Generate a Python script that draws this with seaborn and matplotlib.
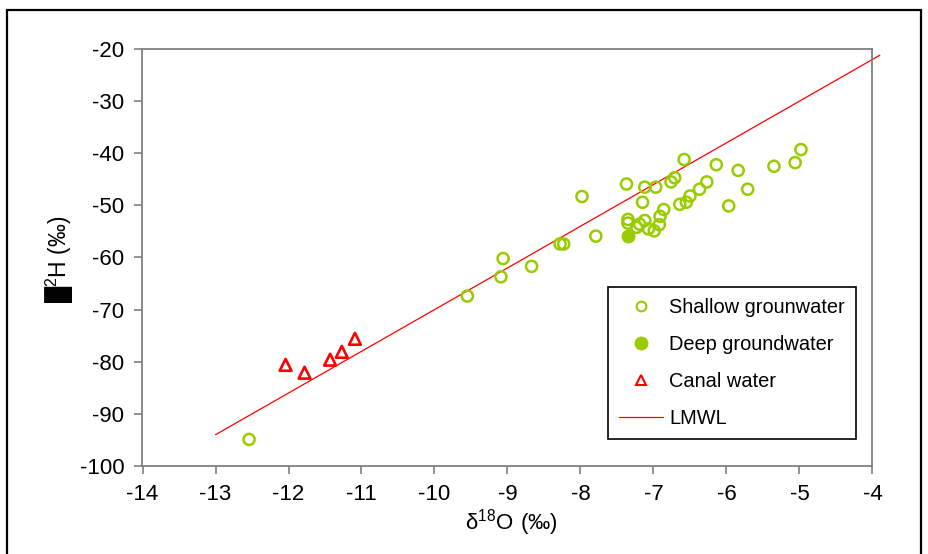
import matplotlib
matplotlib.use("Agg")
import matplotlib.pyplot as plt
import seaborn as sns
import pandas as pd
from matplotlib.patches import Rectangle
from matplotlib.lines import Line2D

# ---- data ----
shallow_d18o = [-12.54, -9.55, -9.09, -9.06, -8.67, -8.28, -8.23, -7.98, -7.79, -7.37,
                -7.35, -7.35, -7.23, -7.19, -7.15, -7.12, -7.12, -7.07, -6.99, -6.97,
                -6.92, -6.91, -6.86, -6.76, -6.71, -6.58, -6.64, -6.55, -6.50, -6.37,
                -6.27, -6.14, -5.97, -5.84, -5.71, -5.35, -5.06, -4.98]
shallow_d2h = [-94.9, -67.4, -63.7, -60.2, -61.7, -57.4, -57.4, -48.3, -55.9, -45.9,
               -52.7, -53.4, -54.2, -53.6, -49.4, -46.5, -52.9, -54.5, -54.9, -46.5,
               -53.7, -52.1, -50.8, -45.5, -44.7, -41.2, -49.8, -49.4, -48.2, -46.9,
               -45.5, -42.2, -50.1, -43.3, -46.9, -42.5, -41.8, -39.3]
deep_d18o = [-7.35]
deep_d2h = [-55.9]
canal_d18o = [-12.04, -11.78, -11.43, -11.27, -11.09]
canal_d2h = [-80.6, -82.1, -79.6, -78.1, -75.6]
lmwl_d18o = [-13.0, -3.9]
lmwl_d2h = [-94.0, -21.2]

x_ticks = [-14, -13, -12, -11, -10, -9, -8, -7, -6, -5, -4]
y_ticks = [-100, -90, -80, -70, -60, -50, -40, -30, -20]

labels = ["Shallow grounwater", "Deep groundwater", "Canal water", "LMWL"]

GREEN = "#99CC00"
RED = "#FF0000"
GRAY = "#808080"

sns.set_theme(style="white")
plt.rcParams["font.family"] = ["Liberation Sans", "DejaVu Sans"]
plt.rcParams["text.color"] = "black"

fig = plt.figure(figsize=(9.29, 5.54), dpi=100)
ax = fig.add_axes([142.5 / 929, 1 - 466 / 554, (872.5 - 142.5) / 929, (466 - 49) / 554])

df_s = pd.DataFrame({"x": shallow_d18o, "y": shallow_d2h})
df_d = pd.DataFrame({"x": deep_d18o, "y": deep_d2h})
df_c = pd.DataFrame({"x": canal_d18o, "y": canal_d2h})
df_l = pd.DataFrame({"x": lmwl_d18o, "y": lmwl_d2h})

sns.lineplot(data=df_l, x="x", y="y", ax=ax, color=RED, linewidth=0.9, zorder=2)
for ln in ax.get_lines():
    ln.set_clip_on(False)
sns.scatterplot(data=df_s, x="x", y="y", ax=ax, marker="o", s=64,
                facecolor="none", edgecolor=GREEN, linewidth=1.8, zorder=3)
sns.scatterplot(data=df_d, x="x", y="y", ax=ax, marker="o", s=100,
                color=GREEN, edgecolor=GREEN, linewidth=0, zorder=4)
sns.scatterplot(data=df_c, x="x", y="y", ax=ax, marker="^", s=72,
                facecolor="none", edgecolor=RED, linewidth=1.9, zorder=3)

ax.set_xlim(x_ticks[0], x_ticks[-1])
ax.set_ylim(y_ticks[0], y_ticks[-1])
ax.set_xticks(x_ticks)
ax.set_yticks(y_ticks)
ax.set_xticklabels([str(v) for v in x_ticks])
ax.set_yticklabels([str(v) for v in y_ticks])
ax.tick_params(axis="both", which="major", direction="out", length=6, width=1.2,
               color=GRAY, labelsize=16, pad=7, labelcolor="black",
               bottom=True, left=True)
for sp in ax.spines.values():
    sp.set_visible(True)
    sp.set_color(GRAY)
    sp.set_linewidth(1.3)
ax.grid(False)

ax.set_xlabel("")
ax.set_ylabel("")
fig.text(511 / 929, 1 - 523 / 554,
         r"$\mathregular{\delta^{18}O\ (‰)}$", ha="center", va="center",
         fontsize=16, color="black")
fig.text(60 / 929, 1 - 259 / 554, "\u2588$\\mathregular{^{2}}$H (‰)",
         rotation=90, ha="center", va="center", fontsize=16.5, color="black")

handles = [
    Line2D([], [], linestyle="none", marker="o", markersize=7, markerfacecolor="none",
           markeredgecolor=GREEN, markeredgewidth=1.5),
    Line2D([], [], linestyle="none", marker="o", markersize=9, markerfacecolor=GREEN,
           markeredgecolor=GREEN),
    Line2D([], [], linestyle="none", marker="^", markersize=7, markerfacecolor="none",
           markeredgecolor=RED, markeredgewidth=1.5),
    Line2D([], [], color=RED, linewidth=0.9),
]
leg = ax.legend(handles, labels, loc="upper left",
                bbox_to_anchor=(0.638, 0.429), fontsize=14.4, frameon=True,
                fancybox=False, edgecolor="black", framealpha=1,
                handlelength=2.2, handletextpad=0.3, labelspacing=0.9,
                borderpad=0.55, borderaxespad=0, labelcolor="black")
leg.get_frame().set_linewidth(1.2)

fig.patches.append(Rectangle((7 / 929, -0.1), (921 - 7) / 929, 1.1 - 10 / 554,
                             transform=fig.transFigure, fill=False,
                             edgecolor="black", linewidth=1.6))

fig.savefig("out.png", dpi=100)
